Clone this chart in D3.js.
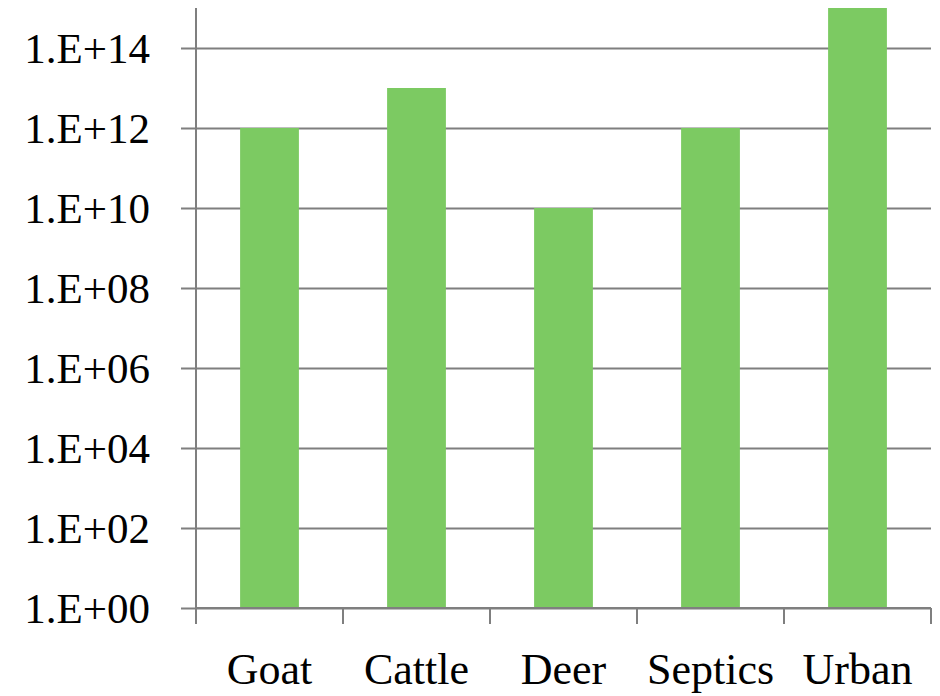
<!DOCTYPE html>
<html>
<head>
<meta charset="utf-8">
<script src="https://cdn.jsdelivr.net/npm/d3@7"></script>
<style>
  body { margin: 0; background: #fff; }
  text { font-family: "Liberation Serif", "DejaVu Serif", serif; fill: #000; }
</style>
</head>
<body>
<div id="chart"></div>
<script>
// data
var categories = ["Goat", "Cattle", "Deer", "Septics", "Urban"];
var values = [1e12, 1e13, 1e10, 1e12, 1e15];
var yTickValues = [1e0, 1e2, 1e4, 1e6, 1e8, 1e10, 1e12, 1e14];

var svgWidth = 940;
var svgHeight = 696;

var svg = d3.select("#chart")
    .append("svg")
    .attr("width", svgWidth)
    .attr("height", svgHeight);

var plot = { left: 196, right: 931, top: 8, bottom: 608 };

var y = d3.scaleLog()
    .domain([1, 1e15])
    .range([plot.bottom, plot.top]);

var x = d3.scaleBand()
    .domain(categories)
    .range([plot.left, plot.right])
    .paddingInner(0.6)
    .paddingOuter(0.3);

var fmt = function(v) {
    var e = Math.round(Math.log10(v));
    return "1.E+" + (e < 10 ? "0" + e : e);
};

// gridlines + y labels
var yAxis = d3.axisLeft(y)
    .tickValues(yTickValues)
    .tickFormat(fmt)
    .tickSize(-(plot.right - plot.left))
    .tickSizeOuter(0);

var gy = svg.append("g")
    .attr("transform", `translate(${plot.left},0)`)
    .call(yAxis);
gy.select(".domain").remove();
gy.selectAll(".tick line")
    .attr("x1", -15)
    .attr("stroke", "#7f7f7f")
    .attr("stroke-width", 2);
gy.selectAll(".tick text")
    .attr("x", -46)
    .attr("dy", "0.33em")
    .attr("font-size", 43)
    .attr("font-family", null);

// bars
svg.append("g")
    .selectAll("rect")
    .data(values)
    .enter()
    .append("rect")
    .attr("x", (d, i) => x(categories[i]))
    .attr("width", x.bandwidth())
    .attr("y", d => y(d))
    .attr("height", d => y(1) - y(d))
    .attr("fill", "#7cca62");

// y axis line
svg.append("line")
    .attr("x1", plot.left).attr("x2", plot.left)
    .attr("y1", plot.top).attr("y2", plot.bottom + 16)
    .attr("stroke", "#7f7f7f")
    .attr("stroke-width", 2);

// x axis line and boundary ticks
svg.append("line")
    .attr("x1", plot.left).attr("x2", plot.right)
    .attr("y1", plot.bottom).attr("y2", plot.bottom)
    .attr("stroke", "#7f7f7f")
    .attr("stroke-width", 2);

var bounds = categories.map(c => x(c) - x.step() * x.paddingOuter());
bounds.push(plot.right);
svg.append("g")
    .selectAll("line")
    .data(bounds)
    .enter()
    .append("line")
    .attr("x1", d => d).attr("x2", d => d)
    .attr("y1", plot.bottom).attr("y2", plot.bottom + 16)
    .attr("stroke", "#7f7f7f")
    .attr("stroke-width", 2);

// x labels
var xAxis = d3.axisBottom(x).tickSize(0);
var gx = svg.append("g")
    .attr("transform", `translate(0,${plot.bottom})`)
    .call(xAxis);
gx.select(".domain").remove();
gx.selectAll(".tick text")
    .attr("y", 76)
    .attr("dy", 0)
    .attr("font-size", 44)
    .attr("font-family", null);
</script>
</body>
</html>
